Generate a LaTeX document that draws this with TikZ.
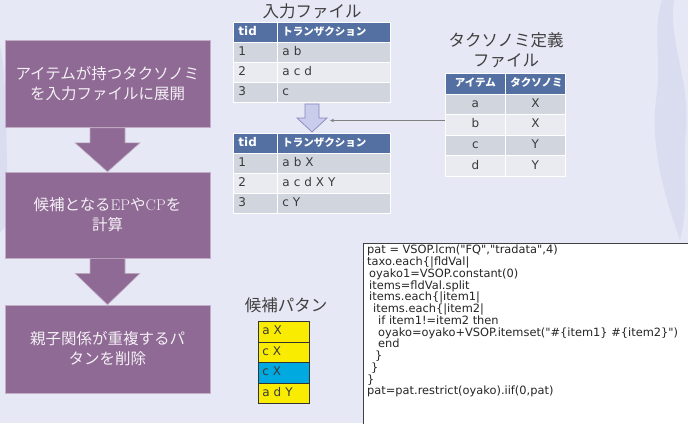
\documentclass[tikz,border=0pt]{standalone}
\usepackage{fontspec}
\usepackage{tikz}
\usetikzlibrary{arrows.meta}
\usetikzlibrary{calc}

\newfontfamily\jp{Noto Sans CJK JP}
\newfontfamily\dv{DejaVu Sans}

\definecolor{bgcol}{HTML}{E7E8F5}
\definecolor{decocol}{HTML}{DADDF0}
\definecolor{boxpurple}{HTML}{8E6A94}
\definecolor{boxtext}{HTML}{F4F0F5}
\definecolor{hdrblue}{HTML}{5470A2}
\definecolor{rowdark}{HTML}{D0D5DE}
\definecolor{rowlight}{HTML}{E9EBF0}
\definecolor{txtgray}{HTML}{3A3A3A}
\definecolor{titlegray}{HTML}{404040}
\definecolor{hollowfill}{HTML}{C9CCEA}
\definecolor{hollowline}{HTML}{8587BE}
\definecolor{patyellow}{HTML}{F9EC00}
\definecolor{patcyan}{HTML}{00A9E0}

\begin{document}
\begin{tikzpicture}[x=1pt,y=-1pt,
    stepbox/.style={fill=boxpurple, draw=white!45!boxpurple, line width=0.6pt,
        minimum width=205pt, text=boxtext, align=center,
        font=\jp\fontsize{15.5}{20}\selectfont},
    flow/.style={fill=boxpurple, draw=white!45!boxpurple, line width=0.6pt},
    title/.style={text=titlegray, align=center, font=\jp\fontsize{16.5}{20}\selectfont},
    cell/.style={anchor=north west, draw=white, line width=0.8pt, text=txtgray,
        inner xsep=5pt, inner ysep=0pt, minimum height=20pt,
        text height=9pt, text depth=3pt, font=\dv\fontsize{12}{14}\selectfont},
    hdr/.style={cell, fill=hdrblue, text=white, font=\bfseries\dv\fontsize{12}{14}\selectfont},
    jhdr/.style={hdr, font=\bfseries\jp\fontsize{10.5}{12}\selectfont},
    dk/.style={fill=rowdark},
    lt/.style={fill=rowlight},
    cola/.style={text width=34pt, align=left},
    colb/.style={text width=103pt, align=left},
    colc/.style={text width=50pt, align=center, minimum height=20.6pt},
    pat/.style={cell, draw=black!80, line width=0.7pt, text=txtgray, inner xsep=4pt,
        text width=43pt, align=left, minimum height=20.5pt},
    link/.style={draw=black!50, line width=0.8pt, -{Stealth[length=4pt,width=3.5pt]}},
    code/.style={anchor=north west, align=left, inner sep=0pt, text=black!85,
        font=\dv\fontsize{11.4}{11.75}\selectfont}]

    \useasboundingbox (0,0) rectangle (688,423);
    \clip (0,0) rectangle (688,423);

    % Background
    \fill[bgcol] (0,0) rectangle (688,423);

    % faint wisps at the edges
    \fill[decocol] (662,0) -- (674,0) .. controls (668,40) and (690,80) .. (686,130)
        .. controls (682,170) and (690,200) .. (680,240) .. controls (666,200) and (650,150) .. (656,100)
        .. controls (662,60) and (652,30) .. (662,0) -- cycle;
    \fill[decocol] (0,45) .. controls (9,90) and (4,150) .. (10,222) -- (0,232) -- cycle;

    %%% LEFT FLOW

    \node[stepbox, minimum height=87pt] (b1) at (107.5,84) {アイテムが持つタクソノミ\\を入力ファイルに展開};
    \node[stepbox, minimum height=86pt] (b2) at (107.5,215) {候補となる{\rmfamily EP}や{\rmfamily CP}を\\計算};
    \node[stepbox, minimum height=88pt] (b3) at (107.5,349) {親子関係が重複するパ\\タンを削除};

    % Block arrows
    \filldraw[flow] ($(b1.south)+(-17.5,0)$) -- ($(b1.south)+(17.5,0)$) -- ($(b1.south)+(17.5,15)$)
        -- ($(b1.south)+(32.5,15)$) -- (b2.north) -- ($(b1.south)+(-32.5,15)$)
        -- ($(b1.south)+(-17.5,15)$) -- cycle;
    \filldraw[flow] ($(b2.south)+(-17.5,0)$) -- ($(b2.south)+(17.5,0)$) -- ($(b2.south)+(17.5,15)$)
        -- ($(b2.south)+(32.5,15)$) -- (b3.north) -- ($(b2.south)+(-32.5,15)$)
        -- ($(b2.south)+(-17.5,15)$) -- cycle;

    %%% INPUT FILE

    \node[title] (intitle) at (312,11) {入力ファイル};

    \node[hdr, cola] (in-h1) at (233,22) {tid};
    \node[jhdr, colb] (in-h2) at (277,22) {トランザクション};
    \node[cell, dk, cola] (in-11) at (233,42) {1};
    \node[cell, dk, colb] (in-12) at (277,42) {a b};
    \node[cell, lt, cola] (in-21) at (233,62) {2};
    \node[cell, lt, colb] (in-22) at (277,62) {a c d};
    \node[cell, dk, cola] (in-31) at (233,82) {3};
    \node[cell, dk, colb] (in-32) at (277,82) {c};

    % Hollow arrow
    \filldraw[fill=hollowfill, draw=hollowline, line width=0.7pt]
        (305,104) -- (319,104) -- (319,118) -- (327,118) -- (312,132)
        -- (297,118) -- (305,118) -- cycle;
    \coordinate (convtip) at (330,120.5);

    %%% EXPANDED FILE

    \node[hdr, cola] (ex-h1) at (233,133) {tid};
    \node[jhdr, colb] (ex-h2) at (277,133) {トランザクション};
    \node[cell, dk, cola] (ex-11) at (233,153) {1};
    \node[cell, dk, colb] (ex-12) at (277,153) {a b X};
    \node[cell, lt, cola] (ex-21) at (233,173) {2};
    \node[cell, lt, colb] (ex-22) at (277,173) {a c d X Y};
    \node[cell, dk, cola] (ex-31) at (233,193) {3};
    \node[cell, dk, colb] (ex-32) at (277,193) {c Y};

    %%% TAXONOMY FILE

    \node[title] (txtitle) at (506,50) {タクソノミ定義\\ファイル};

    \node[jhdr, colc] (tx-h1) at (445,73) {アイテム};
    \node[jhdr, colc] (tx-h2) at (505,73) {タクソノミ};
    \node[cell, dk, colc] (tx-11) at (445,93.6) {a};
    \node[cell, dk, colc] (tx-12) at (505,93.6) {X};
    \node[cell, lt, colc] (tx-21) at (445,114.2) {b};
    \node[cell, lt, colc] (tx-22) at (505,114.2) {X};
    \node[cell, dk, colc] (tx-31) at (445,134.8) {c};
    \node[cell, dk, colc] (tx-32) at (505,134.8) {Y};
    \node[cell, lt, colc] (tx-41) at (445,155.4) {d};
    \node[cell, lt, colc] (tx-42) at (505,155.4) {Y};

    \draw[link] (tx-21.west |- convtip) -- (convtip);

    %%% CANDIDATE PATTERNS

    \node[title] (pattitle) at (286,305) {候補パタン};

    \node[pat, fill=patyellow] (p1) at (258,321) {a X};
    \node[pat, fill=patyellow] (p2) at (258,341.5) {c X};
    \node[pat, fill=patcyan] (p3) at (258,362) {c X};
    \node[pat, fill=patyellow] (p4) at (258,382.5) {a d Y};

    %%% CODE

    \filldraw[fill=white, draw=black!75, line width=0.8pt] (363,243) rectangle (700,440);
    \node[code] (src) at (367,245) {pat = VSOP.lcm("FQ","tradata",4)\\
        taxo.each\{|fldVal|\\
        \hspace*{2pt}oyako1=VSOP.constant(0)\\
        \hspace*{2pt}items=fldVal.split\\
        \hspace*{2pt}items.each\{|item1|\\
        \hspace*{6pt}items.each\{|item2|\\
        \hspace*{11pt}if item1!=item2 then\\
        \hspace*{11pt}oyako=oyako+VSOP.itemset("\#\{item1\} \#\{item2\}")\\
        \hspace*{11pt}end\\
        \hspace*{8pt}\}\\
        \hspace*{4pt}\}\\
        \}\\
        pat=pat.restrict(oyako).iif(0,pat)};

\end{tikzpicture}
\end{document}
